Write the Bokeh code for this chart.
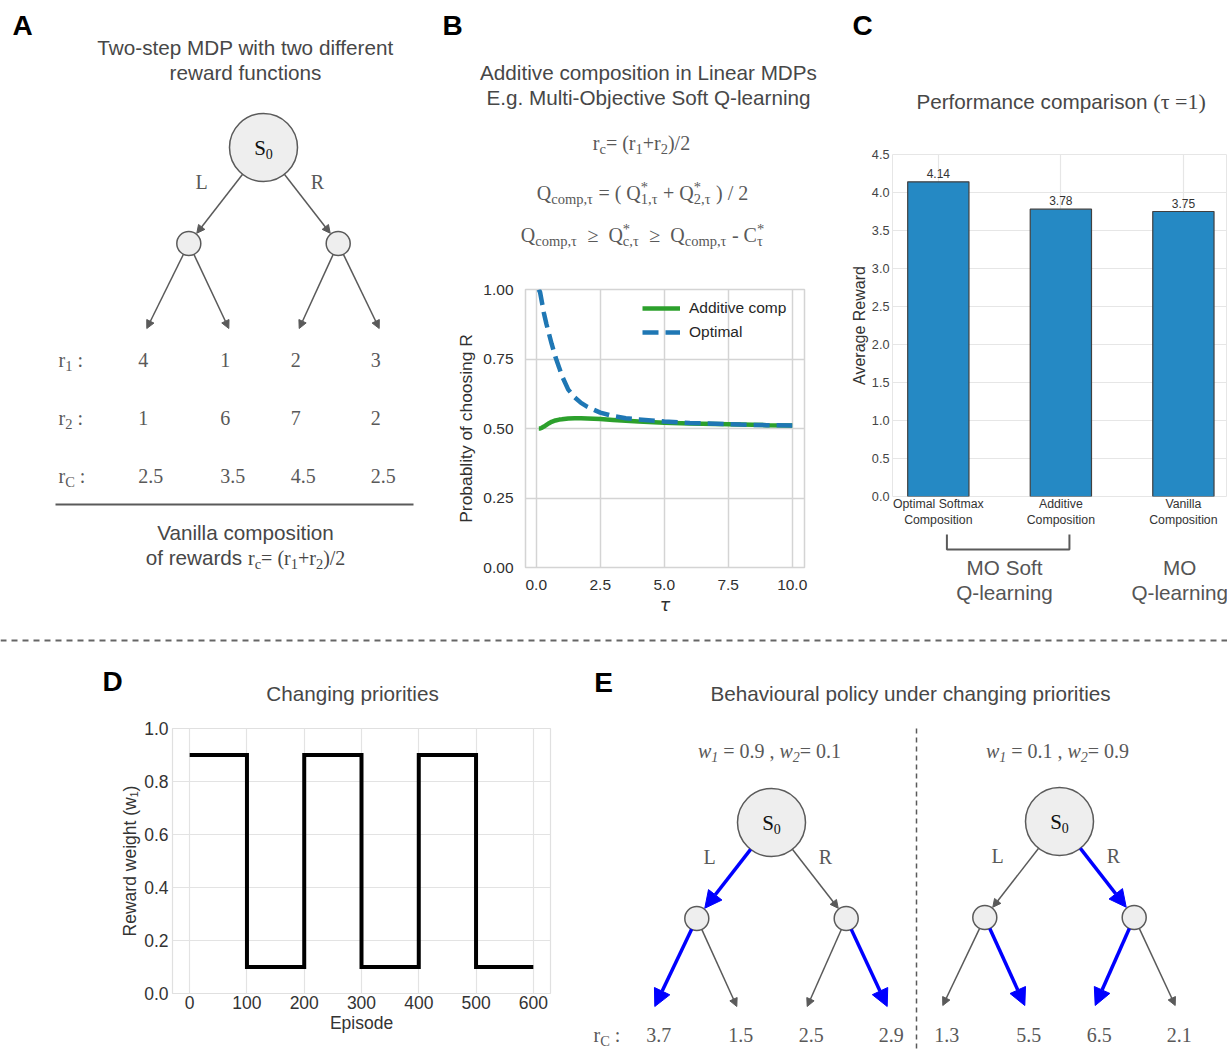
import math
from bokeh.plotting import figure
from bokeh.layouts import row, column
from bokeh.models import (Range1d, Arrow, NormalHead, Legend, LegendItem, FixedTicker,
                          PrintfTickFormatter, Span)
from bokeh.core.properties import value
from bokeh.embed import file_html
from bokeh.resources import INLINE

# ---------------------------------------------------------------- data
# Panel A: two-step MDP rewards per leaf
A_R1 = [4, 1, 2, 3]
A_R2 = [1, 6, 7, 2]
A_RC = [2.5, 3.5, 4.5, 2.5]
A_ROW_SUBS = ["1", "2", "C"]

# Panel B: probability of choosing R vs temperature
TAU = [0.1, 0.15, 0.2, 0.3, 0.4, 0.5, 0.6, 0.75, 0.9, 1.0, 1.25, 1.5, 1.75, 2.0,
       2.5, 3.0, 3.5, 4.0, 5.0, 6.0, 7.0, 8.0, 9.0, 10.0]
P_OPTIMAL = [1.0, 0.99, 0.965, 0.915, 0.875, 0.84, 0.805, 0.757, 0.718, 0.69, 0.64,
             0.612, 0.592, 0.578, 0.557, 0.545, 0.537, 0.532, 0.525, 0.520, 0.517,
             0.514, 0.512, 0.511]
P_ADDITIVE = [0.5, 0.5, 0.502, 0.507, 0.513, 0.519, 0.524, 0.529, 0.532, 0.533, 0.536,
              0.537, 0.537, 0.536, 0.534, 0.531, 0.528, 0.525, 0.521, 0.518, 0.516,
              0.514, 0.512, 0.511]
B_XTICKS = [0, 2.5, 5, 7.5, 10]
B_YTICKS = [0, 0.25, 0.5, 0.75, 1.0]

# Panel C: performance comparison
C_METHODS = ["Optimal Softmax\nComposition", "Additive\nComposition", "Vanilla\nComposition"]
C_REWARD = [4.14, 3.78, 3.75]
C_YTICKS = [0, 0.5, 1.0, 1.5, 2.0, 2.5, 3.0, 3.5, 4.0, 4.5]
C_GROUP_NAMES = [("MO Soft", "Q-learning"), ("MO", "Q-learning")]
C_GROUP_MEMBERS = [[0, 1], [2]]

# Panel D: changing priorities
D_EPISODE = [0, 100, 200, 300, 400, 500, 600]
D_W1 = [0.9, 0.1, 0.9, 0.1, 0.9, 0.1, 0.1]
D_XTICKS = [0, 100, 200, 300, 400, 500, 600]
D_YTICKS = [0.0, 0.2, 0.4, 0.6, 0.8, 1.0]

# Panel E: behavioural policy
E_W_LEFT = (0.9, 0.1)
E_W_RIGHT = (0.1, 0.9)
E_RC_LEFT = [3.7, 1.5, 2.5, 2.9]
E_RC_RIGHT = [1.3, 5.5, 6.5, 2.1]

# ---------------------------------------------------------------- style
SANS = "Liberation Sans"
SERIF = "Liberation Serif"
TITLE_C = "#474747"
TXT_C = "#595959"
LINE_C = "#5a5a5a"
NODE_FILL = "#eeeeee"
HI_C = "#0000ff"
TITLE_SIZE = 20.7

SERIF_W = {' ': .25, '.': .25, ',': .25, '(': .333, ')': .333, '+': .564, '=': .564,
           '/': .278, '-': .333, '*': .5, '≥': .549, ':': .278, 'τ': .44, 'r': .333,
           'c': .444, 'o': .5, 'm': .778, 'p': .5, 'w': .667, 'Q': .722, 'C': .667,
           'S': .556, 'L': .611, 'R': .667}
SANS_W = {' ': .278, 'a': .556, 'b': .556, 'c': .5, 'd': .556, 'e': .556, 'f': .278,
          'g': .556, 'h': .556, 'i': .222, 'l': .222, 'm': .833, 'n': .556, 'o': .556,
          'p': .556, 'r': .333, 's': .5, 't': .278, 'w': .722, 'P': .667}


def tw(t, size, table):
    return sum(table.get(ch, 0.5) for ch in t) * size


def fig(**kw):
    return figure(output_backend="svg", toolbar_location=None, frame_align=False, **kw)


def canvas(w, h, x0, y0):
    p = fig(width=w, height=h, x_range=Range1d(x0, x0 + w), y_range=Range1d(y0 + h, y0),
            x_axis_location=None, y_axis_location=None, min_border=0)
    p.outline_line_color = None
    p.grid.visible = False
    return p


def text(p, xs, ys, ts, size, color=TITLE_C, font=SANS, align="center",
         baseline="middle", style="normal"):
    p.text(x=xs, y=ys, text=ts, text_font=value(font), text_font_size=f"{size}px",
           text_font_style=value(style), text_color=color, text_align=align,
           text_baseline=baseline)


def rich(p, segs, x, y, size=20, sub=14.5, sans_size=TITLE_SIZE, color=TXT_C, align="center"):
    """Text with sub/superscripts; y is the vertical centre of the main line."""
    pieces = []
    cur = 0.0
    for kind, t in segs:
        if kind == "ss":
            pieces.append((cur, -0.30 * size, t[0], sub, "normal", SERIF))
            pieces.append((cur, 0.32 * size, t[1], sub, "normal", SERIF))
            cur += max(tw(t[0], sub, SERIF_W), tw(t[1], sub, SERIF_W))
            continue
        if kind in ("sub", "isub"):
            s, st, f, dy, tab = sub, ("italic" if kind == "isub" else "normal"), SERIF, 0.32 * size, SERIF_W
        elif kind == "sans":
            s, st, f, dy, tab = sans_size, "normal", SANS, 0, SANS_W
        else:
            s, st, f, dy, tab = size, ("italic" if kind == "i" else "normal"), SERIF, 0, SERIF_W
        lead = len(t) - len(t.lstrip())
        pieces.append((cur + tw(t[:lead], s, tab), dy, t.strip(), s, st, f))
        cur += tw(t, s, tab)
    x0 = x - cur / 2 if align == "center" else x
    groups = {}
    for dx, dy, t, s, st, f in pieces:
        g = groups.setdefault((s, st, f), ([], [], []))
        g[0].append(x0 + dx)
        g[1].append(y + dy)
        g[2].append(t)
    for (s, st, f), (xs, ys, ts) in groups.items():
        text(p, xs, ys, ts, s, color=color, font=f, align="left", baseline="middle", style=st)


def arrow(p, x0, y0, x1, y1, hi):
    c = HI_C if hi else LINE_C
    p.add_layout(Arrow(end=NormalHead(size=17 if hi else 8, fill_color=c, line_color=c, line_width=1),
                       x_start=x0, y_start=y0, x_end=x1, y_end=y1,
                       line_color=c, line_width=3.5 if hi else 1.5))


R_ROOT, R_MID = 34, 12
MID_DX, MID_DY = 74.7, 96
LEAF_DX = [-42, 40, -39, 41]


def draw_tree(p, rx, ry, leaf_dy, values=None):
    mids = [(rx - MID_DX, ry + MID_DY), (rx + MID_DX, ry + MID_DY)]
    leaves = [(mids[i // 2][0] + LEAF_DX[i], mids[i // 2][1] + leaf_dy) for i in range(4)]
    hi_leaf, hi_mid = set(), None
    if values is not None:
        best = []
        for m in range(2):
            k = 2 * m + (0 if values[2 * m] >= values[2 * m + 1] else 1)
            hi_leaf.add(k)
            best.append(values[k])
        hi_mid = 0 if best[0] >= best[1] else 1

    def edge(a, ra, b, rb, hi):
        dx, dy = b[0] - a[0], b[1] - a[1]
        L = math.hypot(dx, dy)
        ux, uy = dx / L, dy / L
        arrow(p, a[0] + ra * ux, a[1] + ra * uy, b[0] - rb * ux, b[1] - rb * uy, hi)

    for i, m in enumerate(mids):
        edge((rx, ry), R_ROOT, m, R_MID + 1, hi_mid == i)
    for j, lf in enumerate(leaves):
        edge(mids[j // 2], R_MID, lf, 0, j in hi_leaf)
    p.circle(x=[rx, mids[0][0], mids[1][0]], y=[ry, mids[0][1], mids[1][1]],
             radius=[R_ROOT, R_MID, R_MID], fill_color=NODE_FILL, line_color=LINE_C, line_width=1.5)
    rich(p, [("n", "S"), ("sub", "0")], rx, ry, size=21, sub=14, color="#111111")
    text(p, [rx - 62, rx + 54], [ry + 34, ry + 34], ["L", "R"], 20, color=TXT_C, font=SERIF)
    return leaves


def fmt(v):
    return f"{v:g}"


def style_axes(p, tick_size, label_size, tick_color, label_color):
    for ax in p.axis:
        ax.axis_line_color = None
        ax.major_tick_line_color = None
        ax.minor_tick_line_color = None
        ax.major_tick_out = 0
        ax.major_tick_in = 0
        ax.minor_tick_out = 0
        ax.minor_tick_in = 0
        ax.major_label_text_font = SANS
        ax.major_label_text_font_size = f"{tick_size}px"
        ax.major_label_text_color = tick_color
        ax.axis_label_text_font = SANS
        ax.axis_label_text_font_size = f"{label_size}px"
        ax.axis_label_text_color = label_color
        ax.axis_label_text_font_style = "normal"


# ---------------------------------------------------------------- panel A
pa = canvas(440, 625, 0, 0)
text(pa, [22], [25], ["A"], 28, color="#000000", style="bold")
text(pa, [245, 245], [47, 72], ["Two-step MDP with two different", "reward functions"], TITLE_SIZE)
leaves_a = draw_tree(pa, 263, 147, 85)
rows_a = [A_R1, A_R2, A_RC]
for k, (sub, vals) in enumerate(zip(A_ROW_SUBS, rows_a)):
    yc = 359 + 58 * k
    rich(pa, [("n", "r"), ("sub", sub), ("n", " :")], 58, yc, size=20, sub=14.5, align="left")
    text(pa, [lf[0] - 8.5 for lf in leaves_a], [yc] * 4, [fmt(v) for v in vals], 20,
         color=TXT_C, font=SERIF, align="left")
pa.segment(x0=[55], y0=[504], x1=[413], y1=[504], line_color=LINE_C, line_width=2)
text(pa, [245], [532], ["Vanilla composition"], TITLE_SIZE)
rich(pa, [("sans", "of rewards "), ("n", "r"), ("sub", "c"), ("n", "= (r"), ("sub", "1"),
          ("n", "+r"), ("sub", "2"), ("n", ")/2")], 245, 557, size=20, sub=14.5, color=TITLE_C)

# ---------------------------------------------------------------- panel B
bh = canvas(400, 270, 440, 0)
text(bh, [452], [25], ["B"], 28, color="#000000", style="bold")
text(bh, [648, 648], [72, 97], ["Additive composition in Linear MDPs",
                                "E.g. Multi-Objective Soft Q-learning"], TITLE_SIZE)
rich(bh, [("n", "r"), ("sub", "c"), ("n", "= (r"), ("sub", "1"), ("n", "+r"), ("sub", "2"),
          ("n", ")/2")], 641, 142)
rich(bh, [("n", "Q"), ("sub", "comp,τ"), ("n", " = ( Q"), ("ss", ("*", "1,τ")), ("n", " + Q"),
          ("ss", ("*", "2,τ")), ("n", " ) / 2")], 642, 192)
rich(bh, [("n", "Q"), ("sub", "comp,τ"), ("n", "  ≥"), ("n", "  Q"), ("ss", ("*", "c,τ")),
          ("n", "  ≥"), ("n", "  Q"), ("sub", "comp,τ"), ("n", " - C"), ("ss", ("*", "τ"))], 642, 234)

bp = fig(width=400, height=355, x_range=Range1d(-0.42, 10.48), y_range=Range1d(0, 1),
         min_border_left=85, min_border_right=36, min_border_top=19, min_border_bottom=58)
g_line = bp.line(TAU, P_ADDITIVE, line_color="#2ca02c", line_width=4.5)
b_line = bp.line(TAU, P_OPTIMAL, line_color="#1f77b4", line_width=4.5, line_dash="16 7")
bp.xaxis.ticker = FixedTicker(ticks=B_XTICKS)
bp.yaxis.ticker = FixedTicker(ticks=B_YTICKS)
bp.xaxis.formatter = PrintfTickFormatter(format="%.1f")
bp.yaxis.formatter = PrintfTickFormatter(format="%.2f")
style_axes(bp, 15.5, 17.4, "#303030", "#303030")
bp.xaxis.axis_label = "τ"
bp.xaxis.axis_label_text_font = "DejaVu Sans"
bp.xaxis.axis_label_text_font_style = "italic"
bp.yaxis.axis_label = "Probablity of choosing R"
bp.xaxis.major_label_standoff = 12
bp.xaxis.axis_label_standoff = 2
bp.yaxis.major_label_standoff = 12
bp.yaxis.axis_label_standoff = 4
bp.grid.grid_line_color = "#d4d4d4"
bp.grid.grid_line_width = 1.5
bp.outline_line_color = "#d4d4d4"
bp.outline_line_width = 1.5
legend = Legend(items=[LegendItem(label="Additive comp", renderers=[g_line]),
                       LegendItem(label="Optimal", renderers=[b_line])],
                location="top_right", border_line_color=None, background_fill_alpha=0,
                label_text_font=SANS, label_text_font_size="15.5px", label_text_color="#262626",
                glyph_width=38, glyph_height=16, label_height=16, label_width=105,
                label_standoff=9, spacing=6, padding=4, margin=10)
bp.add_layout(legend)

# ---------------------------------------------------------------- panel C
ch = canvas(387, 140, 840, 0)
text(ch, [862], [25], ["C"], 28, color="#000000", style="bold")
rich(ch, [("sans", "Performance comparison "), ("n", "(τ =1)")], 1061, 101, size=22, color=TITLE_C)

c_x = list(range(len(C_METHODS)))
c_range = Range1d(-0.374, 2.36)
cp = fig(width=387, height=390, x_range=c_range, y_range=Range1d(0, 4.5),
         min_border_left=52, min_border_right=0, min_border_top=14, min_border_bottom=34)
cp.vbar(x=c_x, top=C_REWARD, width=0.5, fill_color="#2589c4", line_color="#404040", line_width=1.2)
cp.text(x=c_x, y=C_REWARD, text=[f"{v:.2f}" for v in C_REWARD], y_offset=-8.5,
        text_font=value(SANS), text_font_size="12px", text_color="#333333",
        text_align="center", text_baseline="middle")
cp.xaxis.ticker = FixedTicker(ticks=c_x)
cp.xaxis.major_label_overrides = {i: m for i, m in zip(c_x, C_METHODS)}
cp.yaxis.ticker = FixedTicker(ticks=C_YTICKS)
cp.yaxis.formatter = PrintfTickFormatter(format="%.1f")
style_axes(cp, 12.7, 16, "#444444", "#333333")
cp.xaxis.major_label_text_font_size = "12.3px"
cp.xaxis.major_label_text_color = "#333333"
cp.xaxis.major_label_standoff = 0
cp.yaxis.major_label_standoff = 3
cp.yaxis.axis_label = "Average Reward"
cp.yaxis.axis_label_standoff = 1
cp.grid.grid_line_color = "#e6e6e6"
cp.grid.grid_line_width = 1.2
cp.outline_line_color = "#e6e6e6"

cf = fig(width=387, height=95, x_range=c_range, y_range=Range1d(625, 530),
         x_axis_location=None, y_axis_location=None,
         min_border_left=52, min_border_right=0, min_border_top=0, min_border_bottom=0)
cf.outline_line_color = None
cf.grid.visible = False
BR_SHIFT = 0.07
for names, members in zip(C_GROUP_NAMES, C_GROUP_MEMBERS):
    lo, hi = min(members) + BR_SHIFT, max(members) + BR_SHIFT
    gx = (lo + hi) / 2 - 0.03 if len(members) > 1 else members[0] - 0.03
    if len(members) > 1:
        cf.line(x=[lo, lo, hi, hi], y=[534, 549, 549, 534], line_color=LINE_C, line_width=2)
    text(cf, [gx, gx], [567, 592], list(names), TITLE_SIZE, color="#555555")

# ---------------------------------------------------------------- separator
sep = canvas(1227, 25, 0, 625)
sep.add_layout(Span(location=640, dimension="width", line_color="#666666", line_width=2,
                    line_dash="6 5"))

# ---------------------------------------------------------------- panel D
dh = canvas(580, 66, 0, 650)
text(dh, [112], [681], ["D"], 28, color="#000000", style="bold")
text(dh, [352], [693], ["Changing priorities"], TITLE_SIZE)

dp = fig(width=580, height=333, x_range=Range1d(-30, 630), y_range=Range1d(0, 1),
         min_border_left=172, min_border_right=30, min_border_top=12, min_border_bottom=56)
dp.step(D_EPISODE, D_W1, mode="after", line_color="#000000", line_width=4, line_join="miter")
dp.xaxis.ticker = FixedTicker(ticks=D_XTICKS)
dp.yaxis.ticker = FixedTicker(ticks=D_YTICKS)
dp.yaxis.formatter = PrintfTickFormatter(format="%.1f")
style_axes(dp, 17.5, 17.5, "#333333", "#333333")
dp.xaxis.axis_label = "Episode"
dp.yaxis.axis_label = "Reward weight (w₁)"
dp.xaxis.major_label_standoff = 2
dp.xaxis.axis_label_standoff = 1
dp.yaxis.major_label_standoff = 4
dp.yaxis.axis_label_standoff = 1
dp.grid.grid_line_color = "#e3e3e3"
dp.grid.grid_line_width = 1.2
dp.outline_line_color = "#e0e0e0"
dp.outline_line_width = 1.2

# ---------------------------------------------------------------- panel E
pe = canvas(647, 399, 580, 650)
text(pe, [603], [682], ["E"], 28, color="#000000", style="bold")
text(pe, [910], [693], ["Behavioural policy under changing priorities"], TITLE_SIZE)
pe.segment(x0=[916], y0=[728], x1=[916], y1=[1049], line_color=LINE_C, line_width=1.5,
           line_dash="5 4")
for (w1, w2), vals, rx, ry in [(E_W_LEFT, E_RC_LEFT, 771, 822), (E_W_RIGHT, E_RC_RIGHT, 1059, 821)]:
    rich(pe, [("i", "w"), ("isub", "1"), ("n", f" = {w1} , "), ("i", "w"), ("isub", "2"),
              ("n", f"= {w2}")], rx - 2, 750, size=20, sub=14)
    lv = draw_tree(pe, rx, ry, 88, values=vals)
    text(pe, [lf[0] - 8.5 for lf in lv], [1034] * 4, [fmt(v) for v in vals], 20,
         color=TXT_C, font=SERIF, align="left")
rich(pe, [("n", "r"), ("sub", "C"), ("n", " :")], 593, 1034, size=20, sub=14.5, align="left")

layout = column(
    row(pa, column(bh, bp), column(ch, cp, cf)),
    sep,
    row(column(dh, dp), pe),
)

open("out.html", "w").write(file_html(layout, INLINE))
